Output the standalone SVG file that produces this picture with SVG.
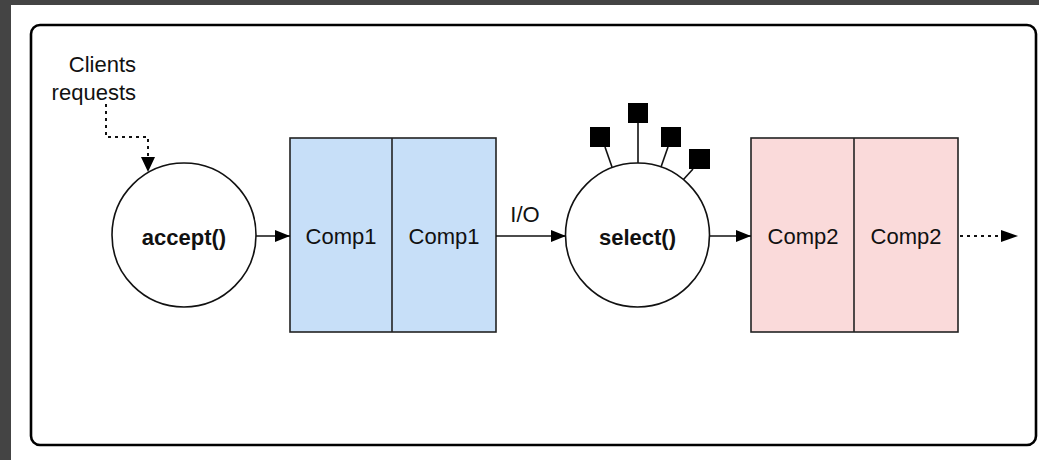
<svg xmlns="http://www.w3.org/2000/svg" width="1039" height="460" viewBox="0 0 1039 460">
<style>
text{font-family:"Liberation Sans",Arial,sans-serif;fill:#111;}
.lbl{font-size:22px;text-anchor:middle;}
.bold{font-size:22px;font-weight:bold;text-anchor:middle;}
.circ{fill:#fff;stroke:#111;stroke-width:1.6;}
.box1{fill:#C7DFF8;stroke:#222;stroke-width:1.6;}
.box2{fill:#FADADA;stroke:#222;stroke-width:1.6;}
.edge{fill:none;stroke:#111;stroke-width:1.6;}
.dot{fill:none;stroke:#111;stroke-width:2;stroke-dasharray:3 4;}
.sq{fill:#000;}
</style>
<defs>
<marker id="ah" viewBox="0 0 15 12" refX="15" refY="6" markerWidth="15" markerHeight="12" markerUnits="userSpaceOnUse" orient="auto">
<path d="M0,0 L15,6 L0,12 Z" fill="#000"/>
</marker>
</defs>
<rect x="0" y="0" width="1039" height="460" fill="#444"/>
<rect x="11" y="5" width="1028" height="455" fill="#fff"/>
<rect x="31" y="25" width="1005" height="420" rx="9" ry="9" fill="#fff" stroke="#000" stroke-width="2.6"/>
<g id="clients-label">
<text x="136" y="72" font-size="22" text-anchor="end">Clients</text>
<text x="136" y="100" font-size="22" text-anchor="end">requests</text>
</g>
<g id="accept">
<circle class="circ" cx="184" cy="235" r="72"/>
<text class="bold" x="184" y="245">accept()</text>
</g>
<g id="comp1">
<rect class="box1" x="290" y="138" width="206" height="194"/>
<line x1="392" y1="138" x2="392" y2="332" stroke="#222" stroke-width="1.6"/>
<text class="lbl" x="341" y="244">Comp1</text>
<text class="lbl" x="444" y="244">Comp1</text>
</g>
<g id="select">
<line class="edge" x1="605" y1="147" x2="612" y2="167"/>
<line class="edge" x1="638" y1="122" x2="638" y2="163"/>
<line class="edge" x1="668" y1="147" x2="661" y2="167"/>
<line class="edge" x1="693" y1="169" x2="683" y2="180"/>
<rect class="sq" x="590" y="127" width="20" height="20"/>
<rect class="sq" x="628" y="103" width="20" height="20"/>
<rect class="sq" x="661" y="127" width="20" height="20"/>
<rect class="sq" x="689" y="149" width="21" height="20"/>
<circle class="circ" cx="637.5" cy="235" r="72"/>
<text class="bold" x="637.5" y="245">select()</text>
</g>
<g id="comp2">
<rect class="box2" x="751" y="138" width="207" height="194"/>
<line x1="854" y1="138" x2="854" y2="332" stroke="#222" stroke-width="1.6"/>
<text class="lbl" x="803" y="244">Comp2</text>
<text class="lbl" x="906" y="244">Comp2</text>
</g>
<g id="connectors">
<path class="dot" d="M106,104 V137 H148 V157"/>
<path d="M141,157 L155,157 L148,172 Z" fill="#000"/>
<line class="edge" x1="256" y1="236" x2="290" y2="236" marker-end="url(#ah)"/>
<line class="edge" x1="496" y1="236" x2="566" y2="236" marker-end="url(#ah)"/>
<text x="525" y="222" font-size="22" text-anchor="middle">I/O</text>
<line class="edge" x1="710" y1="236" x2="751" y2="236" marker-end="url(#ah)"/>
<line class="dot" x1="960" y1="236" x2="1001" y2="236"/>
<path d="M1001,230 L1018,236 L1001,242 Z" fill="#000"/>
</g>
</svg>
